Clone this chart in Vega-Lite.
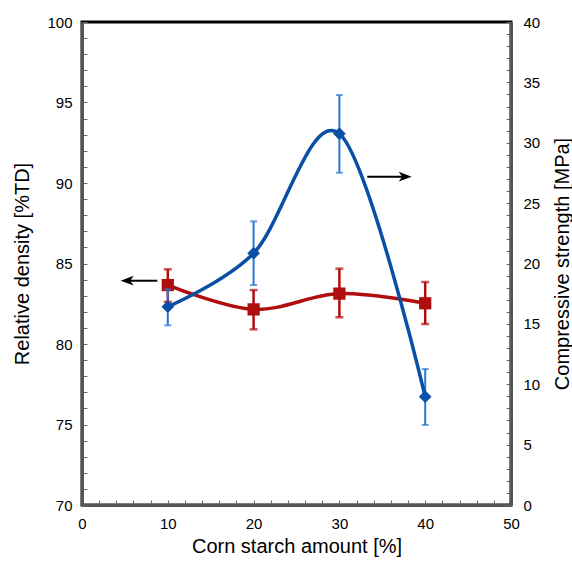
{
  "$schema": "https://vega.github.io/schema/vega-lite/v6.json",
  "autosize": {"type": "none"},
  "width": 429,
  "height": 483,
  "padding": {"left": 82, "top": 22, "right": 61, "bottom": 60},
  "background": "white",
  "config": {
    "view": {"stroke": "#000", "strokeWidth": 3},
    "font": "Liberation Sans",
    "axis": {
      "grid": false,
      "domainColor": "#555",
      "domainWidth": 3,
      "tickColor": "#666",
      "tickWidth": 1,
      "tickSize": -5,
      "tickCount": 100,
      "format": "d",
      "labelFont": "Liberation Sans",
      "labelFontSize": 15,
      "labelColor": "#000",
      "labelOverlap": false,
      "labelBound": false,
      "labelFlush": false,
      "titleFont": "Liberation Sans",
      "titleFontSize": 20,
      "titleFontWeight": "normal",
      "titleColor": "#000"
    }
  },
  "datasets": {
    "density": [
      {"x": 10, "rd": 83.66, "lo": 82.62, "hi": 84.64},
      {"x": 20, "rd": 82.15, "lo": 80.91, "hi": 83.35},
      {"x": 30, "rd": 83.13, "lo": 81.66, "hi": 84.68},
      {"x": 40, "rd": 82.53, "lo": 81.24, "hi": 83.85}
    ],
    "strength": [
      {"x": 10, "cs": 16.42, "lo": 14.88, "hi": 17.86},
      {"x": 20, "cs": 20.85, "lo": 18.22, "hi": 23.49},
      {"x": 30, "cs": 30.75, "lo": 27.52, "hi": 33.95},
      {"x": 40, "cs": 8.97, "lo": 6.63, "hi": 11.26}
    ],
    "arrows": [
      {"x1": 5.3, "x2": 8.78, "y": 83.93, "head": 5.27, "dir": "left"},
      {"x1": 33.25, "x2": 37.67, "y": 90.39, "head": 37.67, "dir": "right"}
    ]
  },
  "layer": [
    {
      "layer": [
        {
          "data": {"name": "density"},
          "mark": {"type": "line", "interpolate": "cardinal", "color": "#b00d0d", "strokeWidth": 3.5},
          "encoding": {
            "x": {
              "field": "x", "type": "quantitative",
              "scale": {"domain": [0, 50], "nice": false},
              "axis": {
                "values": [0,2,4,6,8,10,12,14,16,18,20,22,24,26,28,30,32,34,36,38,40,42,44,46,48,50],
                "tickCount": 100,
                "format": "d",
                "labelExpr": "datum.value % 10 === 0 ? datum.label : ''",
                "labelOverlap": false,
                "labelPadding": 16,
                "title": "Corn starch amount [%]",
                "titleX": 214.5,
                "titleY": 41,
                "titleAlign": "center",
                "titleBaseline": "middle"
              }
            },
            "y": {
              "field": "rd", "type": "quantitative",
              "scale": {"domain": [70, 100], "nice": false, "zero": false},
              "axis": {
                "orient": "left",
                "values": [70,71,72,73,74,75,76,77,78,79,80,81,82,83,84,85,86,87,88,89,90,91,92,93,94,95,96,97,98,99,100],
                "tickCount": 100,
                "format": "d",
                "labelExpr": "datum.value % 5 === 0 ? datum.label : ''",
                "labelOverlap": false,
                "labelPadding": 15,
                "title": "Relative density [%TD]",
                "titleAngle": -90,
                "titleX": -60,
                "titleY": 241.5,
                "titleAlign": "center",
                "titleBaseline": "middle"
              }
            }
          }
        },
        {
          "data": {"name": "density"},
          "mark": {"type": "rule", "color": "#b00d0d", "strokeWidth": 2.5},
          "encoding": {
            "x": {"field": "x", "type": "quantitative"},
            "y": {"field": "lo", "type": "quantitative"},
            "y2": {"field": "hi"}
          }
        },
        {
          "data": {"name": "density"},
          "mark": {"type": "tick", "orient": "horizontal", "color": "#b00d0d", "size": 8, "thickness": 2.5},
          "encoding": {
            "x": {"field": "x", "type": "quantitative"},
            "y": {"field": "lo", "type": "quantitative"}
          }
        },
        {
          "data": {"name": "density"},
          "mark": {"type": "tick", "orient": "horizontal", "color": "#b00d0d", "size": 8, "thickness": 2.5},
          "encoding": {
            "x": {"field": "x", "type": "quantitative"},
            "y": {"field": "hi", "type": "quantitative"}
          }
        },
        {
          "data": {"name": "density"},
          "mark": {"type": "point", "shape": "square", "filled": true, "color": "#b00d0d", "size": 150, "opacity": 1},
          "encoding": {
            "x": {"field": "x", "type": "quantitative"},
            "y": {"field": "rd", "type": "quantitative"}
          }
        },
        {
          "data": {"name": "arrows"},
          "mark": {"type": "rule", "color": "#000", "strokeWidth": 2},
          "encoding": {
            "x": {"field": "x1", "type": "quantitative"},
            "x2": {"field": "x2"},
            "y": {"field": "y", "type": "quantitative"}
          }
        },
        {
          "data": {"name": "arrows"},
          "mark": {"type": "point", "filled": true, "color": "#000", "size": 170, "opacity": 1},
          "encoding": {
            "x": {"field": "head", "type": "quantitative"},
            "y": {"field": "y", "type": "quantitative"},
            "shape": {
              "field": "dir", "type": "nominal", "legend": null,
              "scale": {"domain": ["left", "right"], "range": ["M-1,0L1,-0.75L0.45,0L1,0.75Z", "M1,0L-1,-0.75L-0.45,0L-1,0.75Z"]}
            }
          }
        }
      ]
    },
    {
      "layer": [
        {
          "data": {"name": "strength"},
          "mark": {"type": "rule", "color": "#2a76d4", "strokeWidth": 2},
          "encoding": {
            "x": {"field": "x", "type": "quantitative"},
            "y": {
              "field": "lo", "type": "quantitative",
              "scale": {"domain": [0, 40], "nice": false},
              "axis": {
                "orient": "right",
                "values": [0,1,2,3,4,5,6,7,8,9,10,11,12,13,14,15,16,17,18,19,20,21,22,23,24,25,26,27,28,29,30,31,32,33,34,35,36,37,38,39,40],
                "tickCount": 100,
                "format": "d",
                "labelExpr": "datum.value % 5 === 0 ? datum.label : ''",
                "labelOverlap": false,
                "labelPadding": 17,
                "title": "Compressive strength [MPa]",
                "titleAngle": -90,
                "titleX": 51,
                "titleY": 241.5,
                "titleAlign": "center",
                "titleBaseline": "middle"
              }
            },
            "y2": {"field": "hi"}
          }
        },
        {
          "data": {"name": "strength"},
          "mark": {"type": "tick", "orient": "horizontal", "color": "#2a76d4", "size": 7, "thickness": 2},
          "encoding": {
            "x": {"field": "x", "type": "quantitative"},
            "y": {"field": "lo", "type": "quantitative"}
          }
        },
        {
          "data": {"name": "strength"},
          "mark": {"type": "tick", "orient": "horizontal", "color": "#2a76d4", "size": 7, "thickness": 2},
          "encoding": {
            "x": {"field": "x", "type": "quantitative"},
            "y": {"field": "hi", "type": "quantitative"}
          }
        },
        {
          "data": {"name": "strength"},
          "mark": {"type": "line", "interpolate": "cardinal", "color": "#0b4ea6", "strokeWidth": 3.5},
          "encoding": {
            "x": {"field": "x", "type": "quantitative"},
            "y": {"field": "cs", "type": "quantitative"}
          }
        },
        {
          "data": {"name": "strength"},
          "mark": {"type": "point", "shape": "diamond", "filled": true, "color": "#0b4ea6", "size": 160, "opacity": 1},
          "encoding": {
            "x": {"field": "x", "type": "quantitative"},
            "y": {"field": "cs", "type": "quantitative"}
          }
        }
      ]
    }
  ],
  "resolve": {"scale": {"y": "independent"}}
}
